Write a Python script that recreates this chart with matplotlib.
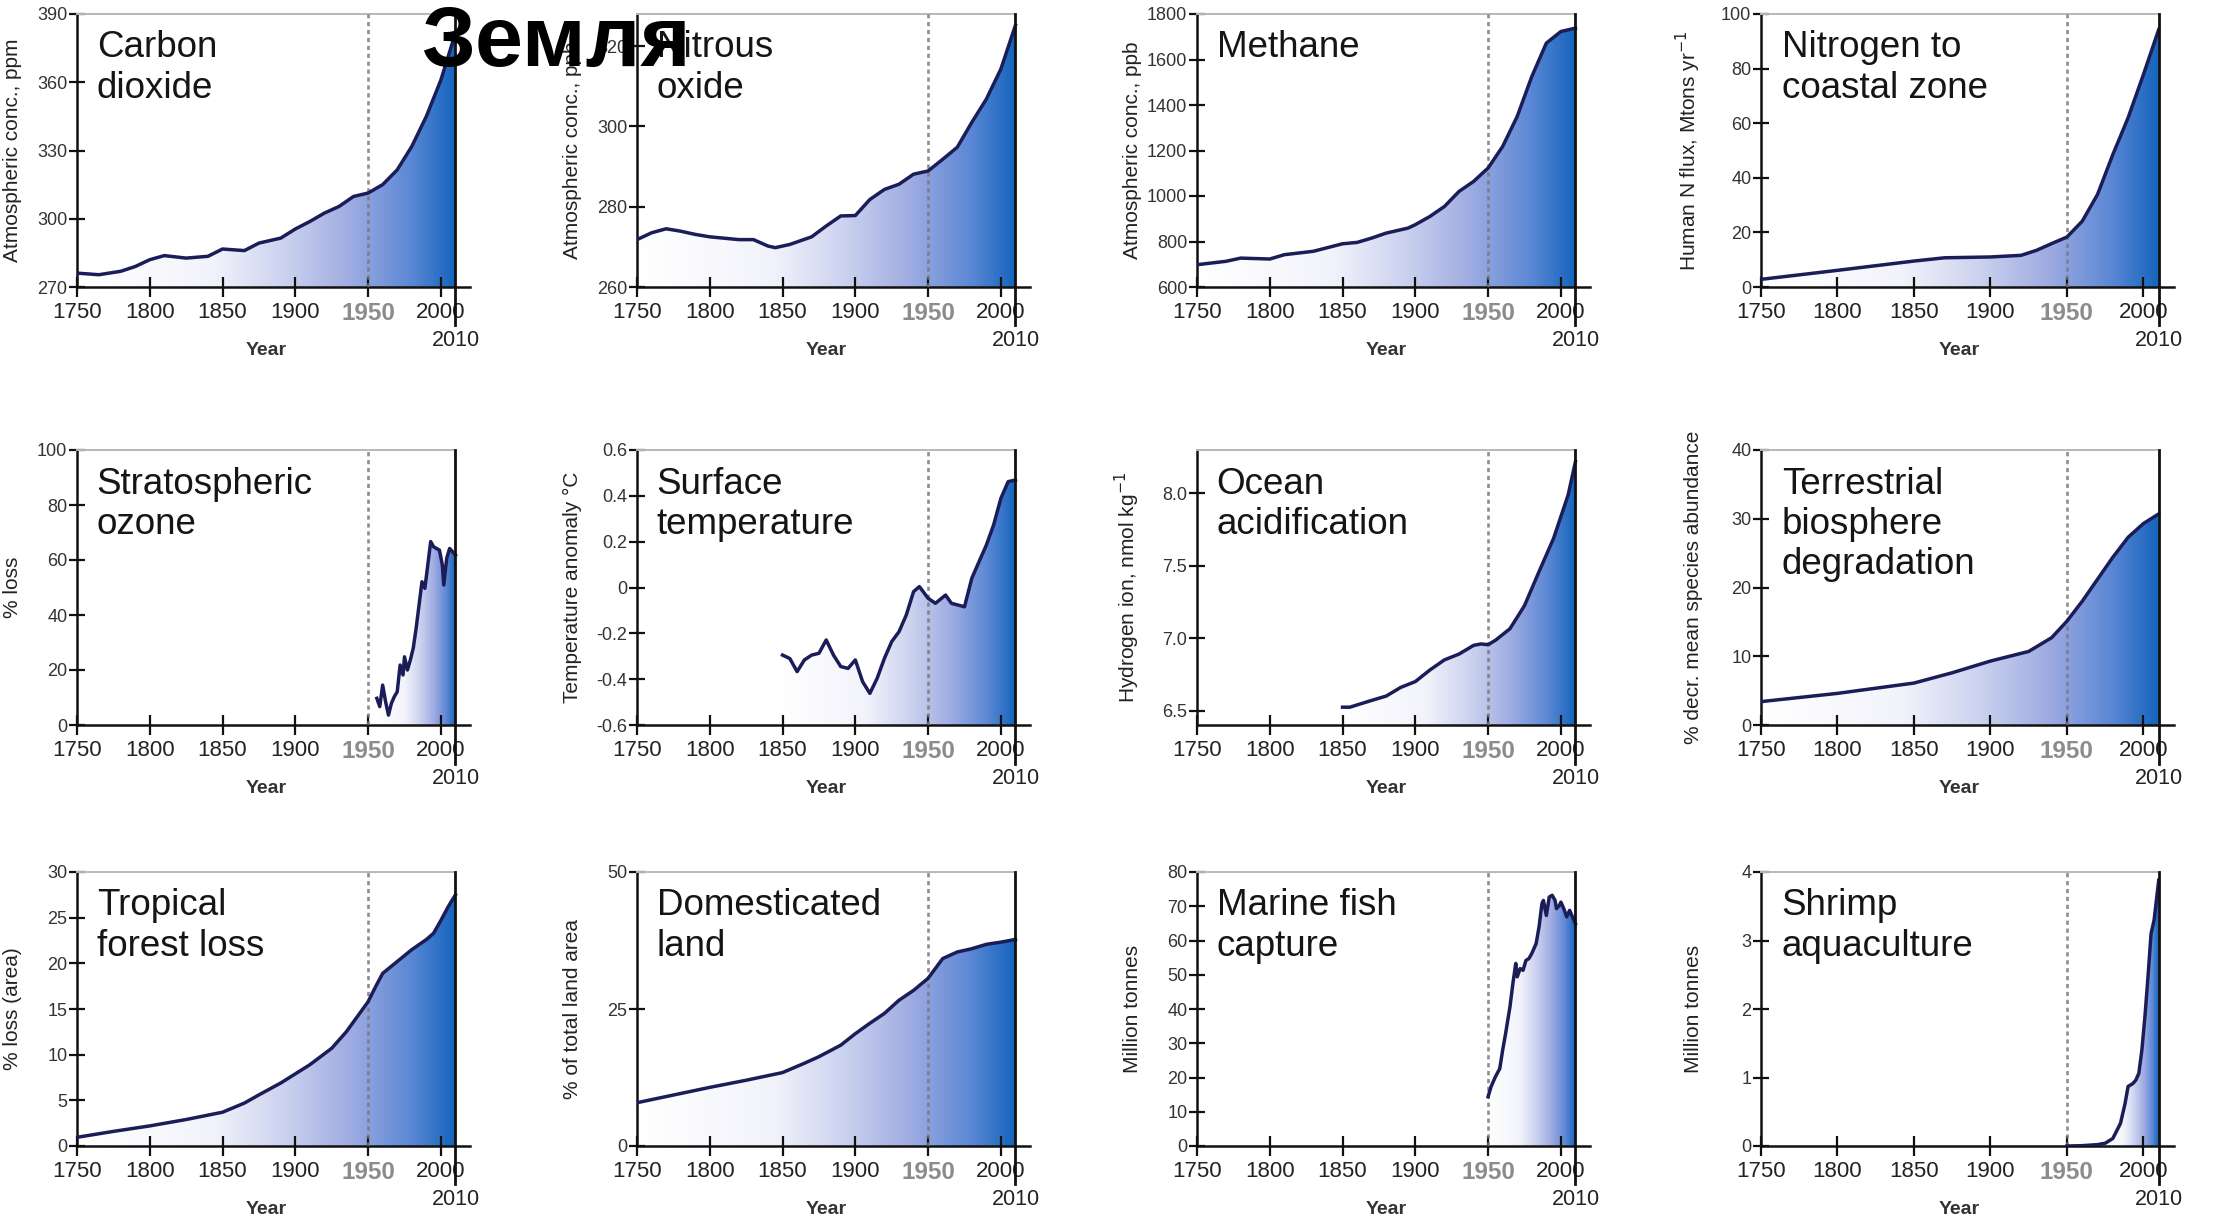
import numpy as np
import matplotlib
matplotlib.use("Agg")
import matplotlib.pyplot as plt
import matplotlib.transforms as mtransforms
from matplotlib import font_manager
from matplotlib.colors import LinearSegmentedColormap
from matplotlib.patches import Polygon

# --- values ------------------------------------------------------------
co2_years = [1750, 1765, 1780, 1790, 1800, 1810, 1825, 1840, 1850, 1865, 1875, 1890,
             1900, 1910, 1920, 1930, 1940, 1950, 1960, 1970, 1980, 1990, 2000, 2010]
co2_values = [276.1, 275.4, 276.9, 279.0, 282.0, 283.8, 282.7, 283.5, 286.7, 286.0, 289.3, 291.5,
              295.5, 298.8, 302.5, 305.4, 309.8, 311.3, 315.0, 321.5, 331.8, 345.0, 361.0, 381.6]

n2o_years = [1750, 1760, 1770, 1780, 1790, 1800, 1820, 1830, 1840, 1845, 1855, 1870, 1880,
             1890, 1900, 1910, 1920, 1930, 1940, 1950, 1960, 1970, 1980, 1990, 2000, 2010]
n2o_values = [271.8, 273.5, 274.5, 273.9, 273.1, 272.5, 271.8, 271.8, 270.2, 269.8, 270.6, 272.5, 275.2,
              277.7, 277.8, 281.8, 284.3, 285.6, 288.1, 288.9, 291.8, 294.8, 301.0, 306.8, 314.3, 325.2]

ch4_years = [1750, 1770, 1780, 1800, 1810, 1830, 1850, 1860, 1870, 1880, 1895, 1900,
             1910, 1920, 1930, 1940, 1950, 1960, 1970, 1980, 1990, 2000, 2010]
ch4_values = [698, 713, 727, 723, 742, 757, 790, 796, 815, 837, 859, 874,
              910, 954, 1020, 1064, 1123, 1218, 1350, 1525, 1672, 1723, 1738]

nitrogen_years = [1750, 1800, 1850, 1870, 1900, 1920, 1930, 1940, 1950, 1960, 1970, 1980, 1990, 2000, 2010]
nitrogen_values = [2.8, 6.1, 9.5, 10.7, 11.0, 11.6, 13.4, 15.9, 18.3, 24.1, 33.9, 48.5, 62.0, 77.8, 94.3]

ozone_years = [1956, 1958, 1960, 1962, 1964, 1966, 1968, 1970, 1972, 1974, 1975, 1977, 1979, 1981,
               1983, 1985, 1987, 1989, 1991, 1993, 1995, 1997, 1999, 2001, 2002, 2004, 2006, 2008, 2010]
ozone_values = [9.7, 6.7, 14.5, 8.5, 3.6, 7.9, 10.3, 12.1, 21.8, 18.2, 24.8, 20.0, 23.6, 27.9,
                35.2, 43.6, 52.1, 49.7, 58.2, 66.7, 64.8, 64.2, 63.6, 58.2, 50.9, 60.6, 64.2, 63.0, 61.8]

temp_years = [1850, 1855, 1860, 1865, 1870, 1875, 1880, 1885, 1890, 1895, 1900, 1905, 1910, 1915,
              1920, 1925, 1930, 1935, 1940, 1944, 1950, 1955, 1962, 1966, 1975, 1980, 1985, 1990,
              1995, 2000, 2005, 2010]
temp_values = [-0.295, -0.31, -0.367, -0.316, -0.295, -0.287, -0.229, -0.295, -0.345, -0.353, -0.316,
               -0.411, -0.462, -0.396, -0.309, -0.236, -0.193, -0.12, -0.018, 0.004, -0.047, -0.069,
               -0.033, -0.069, -0.084, 0.04, 0.113, 0.185, 0.273, 0.389, 0.462, 0.469]

ocean_years = [1850, 1855, 1870, 1880, 1890, 1900, 1910, 1920, 1930, 1940, 1945, 1950, 1955,
               1965, 1975, 1985, 1995, 2005, 2010]
ocean_values = [6.523, 6.523, 6.57, 6.60, 6.66, 6.70, 6.78, 6.85, 6.89, 6.95, 6.96, 6.955, 6.985,
                7.065, 7.225, 7.46, 7.69, 7.99, 8.22]

biosphere_years = [1750, 1800, 1850, 1875, 1900, 1925, 1940, 1950, 1960, 1970, 1980, 1990, 2000, 2010]
biosphere_values = [3.4, 4.6, 6.1, 7.6, 9.3, 10.7, 12.7, 15.1, 18.0, 21.2, 24.4, 27.3, 29.3, 30.7]

forest_years = [1750, 1775, 1800, 1825, 1850, 1865, 1875, 1890, 1900, 1910, 1925, 1935, 1945,
                1950, 1955, 1960, 1970, 1980, 1990, 1995, 2000, 2005, 2010]
forest_values = [0.95, 1.6, 2.2, 2.9, 3.7, 4.7, 5.6, 6.9, 7.9, 8.9, 10.7, 12.5, 14.7,
                 15.8, 17.4, 18.9, 20.2, 21.5, 22.6, 23.3, 24.7, 26.2, 27.5]

land_years = [1750, 1775, 1800, 1825, 1850, 1865, 1875, 1890, 1900, 1910, 1920, 1930, 1940,
              1950, 1955, 1960, 1970, 1980, 1990, 2000, 2010]
land_values = [7.9, 9.3, 10.7, 12.0, 13.4, 15.1, 16.3, 18.4, 20.5, 22.4, 24.2, 26.6, 28.4,
               30.6, 32.4, 34.2, 35.4, 36.0, 36.8, 37.2, 37.7]

fish_years = [1950, 1952, 1955, 1958, 1960, 1962, 1965, 1967, 1969, 1970, 1972, 1974, 1976, 1978,
              1980, 1983, 1985, 1987, 1988, 1990, 1992, 1994, 1996, 1997, 1999, 2000, 2002, 2004,
              2006, 2008, 2010]
fish_values = [14.4, 17.3, 20.2, 22.6, 28.0, 32.8, 40.6, 47.4, 53.3, 49.4, 51.8, 51.3, 54.2, 54.7,
               56.2, 59.1, 64.0, 70.8, 71.7, 67.3, 72.7, 73.2, 71.7, 69.3, 70.3, 71.2, 69.3, 66.9,
               68.8, 66.9, 64.9]

shrimp_years = [1950, 1960, 1970, 1975, 1980, 1985, 1988, 1990, 1993, 1995, 1997, 1999, 2001,
                2003, 2005, 2007, 2010]
shrimp_values = [0.0, 0.005, 0.02, 0.04, 0.11, 0.33, 0.62, 0.87, 0.91, 0.96, 1.06, 1.4, 1.89,
                 2.47, 3.1, 3.3, 3.88]

year_ticks = [1750, 1800, 1850, 1900, 1950, 2000]

# --- style ----------------------------------------------------------------
installed = {f.name for f in font_manager.fontManager.ttflist}
NARROW = "Liberation Sans Narrow" if "Liberation Sans Narrow" in installed else "Liberation Sans"
REGULAR = "Liberation Sans"
LINE = "#1b1d58"
FADE = LinearSegmentedColormap.from_list(
    "fade", [(0.0, "#ffffff"), (0.35, "#f3f4fb"), (0.55, "#cbd2ef"),
             (0.72, "#a0ace2"), (0.88, "#5c88d5"), (1.0, "#1464bd")])

PANELS = [
    dict(years=co2_years, values=co2_values, title="Carbon\ndioxide",
         ylabel="Atmospheric conc., ppm", ylim=(270, 390), yticks=[270, 300, 330, 360, 390]),
    dict(years=n2o_years, values=n2o_values, title="Nitrous\noxide",
         ylabel="Atmospheric conc., ppb", ylim=(260, 328), yticks=[260, 280, 300, 320]),
    dict(years=ch4_years, values=ch4_values, title="Methane",
         ylabel="Atmospheric conc., ppb", ylim=(600, 1800), yticks=list(range(600, 1801, 200))),
    dict(years=nitrogen_years, values=nitrogen_values, title="Nitrogen to\ncoastal zone",
         ylabel=r"Human N flux, Mtons yr$^{-1}$", ylim=(0, 100), yticks=list(range(0, 101, 20))),
    dict(years=ozone_years, values=ozone_values, title="Stratospheric\nozone",
         ylabel="% loss", ylim=(0, 100), yticks=list(range(0, 101, 20))),
    dict(years=temp_years, values=temp_values, title="Surface\ntemperature",
         ylabel="Temperature anomaly °C", ylim=(-0.6, 0.6),
         yticks=[-0.6, -0.4, -0.2, 0, 0.2, 0.4, 0.6],
         yticklabels=["-0.6", "-0.4", "-0.2", "0", "0.2", "0.4", "0.6"]),
    dict(years=ocean_years, values=ocean_values, title="Ocean\nacidification",
         ylabel=r"Hydrogen ion, nmol kg$^{-1}$", ylim=(6.4, 8.3), yticks=[6.5, 7.0, 7.5, 8.0],
         yticklabels=["6.5", "7.0", "7.5", "8.0"]),
    dict(years=biosphere_years, values=biosphere_values, title="Terrestrial\nbiosphere\ndegradation",
         ylabel="% decr. mean species abundance", ylim=(0, 40), yticks=[0, 10, 20, 30, 40]),
    dict(years=forest_years, values=forest_values, title="Tropical\nforest loss",
         ylabel="% loss (area)", ylim=(0, 30), yticks=list(range(0, 31, 5))),
    dict(years=land_years, values=land_values, title="Domesticated\nland",
         ylabel="% of total land area", ylim=(0, 50), yticks=[0, 25, 50]),
    dict(years=fish_years, values=fish_values, title="Marine fish\ncapture",
         ylabel="Million tonnes", ylim=(0, 80), yticks=list(range(0, 81, 10))),
    dict(years=shrimp_years, values=shrimp_values, title="Shrimp\naquaculture",
         ylabel="Million tonnes", ylim=(0, 4), yticks=[0, 1, 2, 3, 4], fade_from=1975),
]

# pixel boxes of the panels in the 2213x1218 figure
W, H = 2213, 1218
ROWS = [(14, 287), (450, 725), (872, 1146)]
COLS = [(77, 393), (637, 393), (1197, 393), (1761, 413)]


def draw_panel(ax, p):
    years = np.asarray(p["years"], float)
    vals = np.asarray(p["values"], float)
    y0, y1 = p["ylim"]

    # gradient fill under the curve
    start = p.get("fade_from", years[0])
    grad = np.linspace(0, 1, 256).reshape(1, -1)
    im = ax.imshow(grad, cmap=FADE, extent=(start, 2010, y0, y1), aspect="auto",
                   origin="lower", interpolation="bicubic", zorder=1)
    verts = np.vstack([[years[0], y0], np.column_stack([years, vals]), [years[-1], y0]])
    clip = Polygon(verts, closed=True, facecolor="none", edgecolor="none", transform=ax.transData)
    ax.add_patch(clip)
    im.set_clip_path(clip)
    ax.plot(years, vals, color=LINE, lw=2.5, zorder=4, solid_joinstyle="round")

    ax.set_xlim(1750, 2020)
    ax.set_ylim(y0, y1)

    # frame
    for side in ("left", "bottom"):
        ax.spines[side].set_linewidth(1.8)
        ax.spines[side].set_color("#111111")
    ax.spines["right"].set_visible(False)
    ax.spines["top"].set_color("#b8b8b8")
    ax.spines["top"].set_linewidth(1.4)
    ax.spines["top"].set_bounds(1750, 2010)

    blend = mtransforms.blended_transform_factory(ax.transData, ax.transAxes)
    ax.plot([2010, 2010], [-0.14, 1.0], transform=blend, color="#111111", lw=2.0,
            clip_on=False, zorder=5)
    ax.axvline(1950, color="#7a7a7a", lw=1.9, ls=(0, (1.6, 1.4)), zorder=3, alpha=0.85)

    # ticks
    ax.set_xticks(year_ticks)
    ax.set_xticklabels([str(y) for y in year_ticks])
    ax.set_yticks(p["yticks"])
    if "yticklabels" in p:
        ax.set_yticklabels(p["yticklabels"])
    ax.tick_params(axis="x", direction="inout", length=14, width=1.6, pad=4,
                   labelsize=16, colors="#111111", labelcolor="#222222")
    ax.tick_params(axis="y", direction="inout", length=11, width=1.6, pad=1.5,
                   labelsize=13, colors="#111111", labelcolor="#333333")
    for lab in ax.get_xticklabels() + ax.get_yticklabels():
        lab.set_family(NARROW)
    for lab in ax.get_xticklabels():
        if lab.get_text() == "1950":
            lab.set_fontweight("bold")
            lab.set_color("#8c8c8c")
            lab.set_fontsize(17.5)

    ax.text(2010, -0.195, "2010", transform=blend, ha="center", va="center",
            fontsize=15.5, family=NARROW, color="#222222")
    ax.set_xlabel("Year", fontsize=14, fontweight="bold", family=NARROW, color="#333333")
    ax.xaxis.set_label_coords(0.481, -0.2)
    ax.set_ylabel(p["ylabel"], fontsize=15, family=REGULAR, color="#222222")
    ax.yaxis.set_label_coords(-0.14, 0.5)

    ax.text(0.05, 0.94, p["title"], transform=ax.transAxes, ha="left", va="top",
            fontsize=26.5, family=NARROW, color="#151515", zorder=6)


fig = plt.figure(figsize=(W / 100, H / 100), dpi=100)
fig.patch.set_facecolor("white")
for i, p in enumerate(PANELS):
    top, bottom = ROWS[i // 4]
    left, width = COLS[i % 4]
    ax = fig.add_axes([left / W, 1 - bottom / H, width / W, (bottom - top) / H])
    draw_panel(ax, p)

fig.text(421 / W, 1 - 66 / H, "Земля", fontsize=62, fontweight="bold",
         family=REGULAR, color="black", ha="left", va="baseline", zorder=10)

fig.savefig("out.png", dpi=100, facecolor="white")
